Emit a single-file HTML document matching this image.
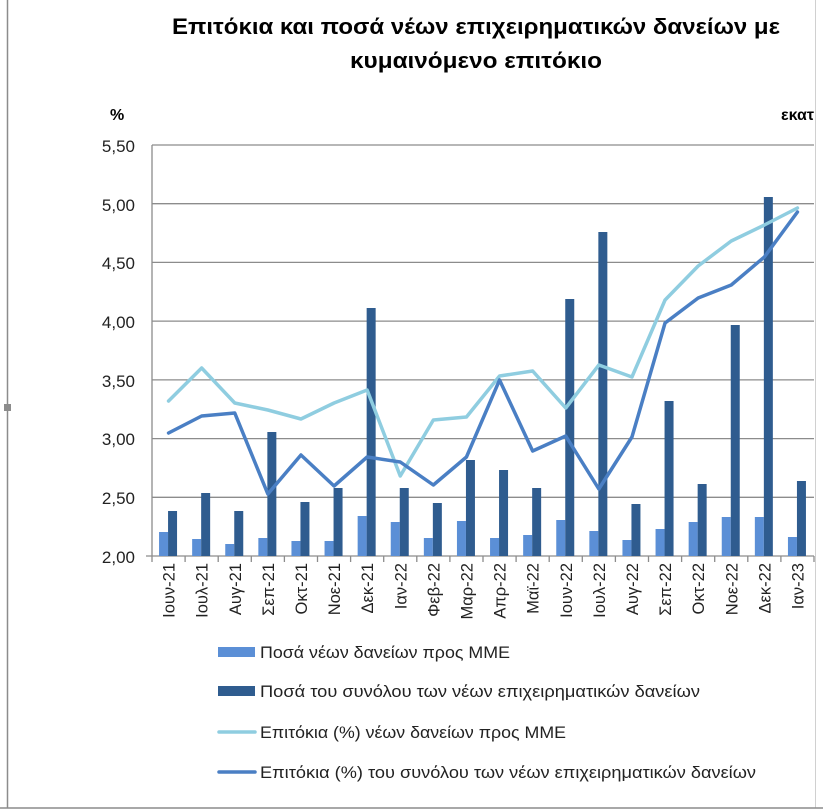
<!DOCTYPE html>
<html><head><meta charset="utf-8"><style>
body{margin:0;background:#fff;}
svg{display:block;font-family:"Liberation Sans","DejaVu Sans",sans-serif;}
</style></head><body>
<svg id="s" width="823" height="812" xmlns="http://www.w3.org/2000/svg">
<rect width="823" height="812" fill="#fff"/>
<line x1="7.5" y1="0" x2="7.5" y2="808" stroke="#8c8c8c" stroke-width="1.5"/>
<rect x="4" y="404" width="7" height="7" fill="#8c8c8c"/>
<line x1="815.5" y1="0" x2="815.5" y2="808" stroke="#d0d0d0" stroke-width="1"/>
<line x1="0" y1="808" x2="823" y2="808" stroke="#8c8c8c" stroke-width="1.5"/>
<text x="172" y="34" font-size="22" font-weight="bold" textLength="608" lengthAdjust="spacingAndGlyphs">Επιτόκια και ποσά νέων επιχειρηματικών δανείων με</text>
<text x="350" y="68" font-size="22" font-weight="bold" textLength="252" lengthAdjust="spacingAndGlyphs">κυμαινόμενο επιτόκιο</text>
<text x="110" y="120" font-size="16" font-weight="bold">%</text>
<svg x="0" y="0" width="815" height="812"><text x="781" y="120" font-size="16" font-weight="bold">εκατ</text></svg>
<g stroke="#8c8c8c" stroke-width="1.3">
<line x1="152" y1="145" x2="814" y2="145"/>
<line x1="152" y1="203.7" x2="814" y2="203.7"/>
<line x1="152" y1="262.4" x2="814" y2="262.4"/>
<line x1="152" y1="321.1" x2="814" y2="321.1"/>
<line x1="152" y1="379.9" x2="814" y2="379.9"/>
<line x1="152" y1="438.6" x2="814" y2="438.6"/>
<line x1="152" y1="497.3" x2="814" y2="497.3"/>
<line x1="146" y1="556" x2="814" y2="556"/>
<line x1="152" y1="145" x2="152" y2="556"/>
</g>
<g font-size="17" text-anchor="end" fill="#222">
<text x="135" y="152">5,50</text><text x="135" y="211">5,00</text><text x="135" y="269">4,50</text>
<text x="135" y="328">4,00</text><text x="135" y="387">3,50</text><text x="135" y="445">3,00</text>
<text x="135" y="504">2,50</text><text x="135" y="563">2,00</text>
</g>
<g id="ticks" stroke="#8c8c8c" stroke-width="1.3"></g>
<g id="bars"></g>
<g id="lines" fill="none" stroke-width="3.5" stroke-linejoin="round" stroke-linecap="round"></g>
<g font-size="16.5" text-anchor="end" fill="#222">
<text transform="translate(174.6,563) rotate(-90)">Ιουν-21</text>
<text transform="translate(207.7,563) rotate(-90)">Ιουλ-21</text>
<text transform="translate(240.8,563) rotate(-90)">Αυγ-21</text>
<text transform="translate(273.9,563) rotate(-90)">Σεπ-21</text>
<text transform="translate(307,563) rotate(-90)">Οκτ-21</text>
<text transform="translate(340.1,563) rotate(-90)">Νοε-21</text>
<text transform="translate(373.2,563) rotate(-90)">Δεκ-21</text>
<text transform="translate(406.3,563) rotate(-90)">Ιαν-22</text>
<text transform="translate(439.4,563) rotate(-90)">Φεβ-22</text>
<text transform="translate(472.5,563) rotate(-90)">Μαρ-22</text>
<text transform="translate(505.6,563) rotate(-90)">Απρ-22</text>
<text transform="translate(538.7,563) rotate(-90)">Μαϊ-22</text>
<text transform="translate(571.8,563) rotate(-90)">Ιουν-22</text>
<text transform="translate(604.9,563) rotate(-90)">Ιουλ-22</text>
<text transform="translate(638,563) rotate(-90)">Αυγ-22</text>
<text transform="translate(671.1,563) rotate(-90)">Σεπ-22</text>
<text transform="translate(704.2,563) rotate(-90)">Οκτ-22</text>
<text transform="translate(737.3,563) rotate(-90)">Νοε-22</text>
<text transform="translate(770.4,563) rotate(-90)">Δεκ-22</text>
<text transform="translate(803.5,563) rotate(-90)">Ιαν-23</text>
</g>
<rect x="218" y="647" width="37" height="10" fill="#5b8fd6"/>
<rect x="218" y="686" width="37" height="10" fill="#2f5c8f"/>
<line x1="219" y1="732" x2="255" y2="732" stroke="#8fcde0" stroke-width="3.5" stroke-linecap="round"/>
<line x1="219" y1="772" x2="255" y2="772" stroke="#4a7fc4" stroke-width="3.5" stroke-linecap="round"/>
<g font-size="17" fill="#222">
<text x="260" y="658" textLength="250" lengthAdjust="spacingAndGlyphs">Ποσά νέων δανείων προς ΜΜΕ</text>
<text x="260" y="697" textLength="440" lengthAdjust="spacingAndGlyphs">Ποσά του συνόλου των νέων επιχειρηματικών δανείων</text>
<text x="260" y="738" textLength="306" lengthAdjust="spacingAndGlyphs">Επιτόκια (%) νέων δανείων προς ΜΜΕ</text>
<text x="260" y="778" textLength="496" lengthAdjust="spacingAndGlyphs">Επιτόκια (%) του συνόλου των νέων επιχειρηματικών δανείων</text>
</g>
</svg>
<script>
var NS="http://www.w3.org/2000/svg";
function el(p,t,a){var e=document.createElementNS(NS,t);for(var k in a)e.setAttribute(k,a[k]);p.appendChild(e);return e;}
var L=[532,539,544,538,541,541,516,522,538,521,538,535,520,531,540,529,522,517,517,537];
var D=[511,493,511,432,502,488,308,488,503,460,470,488,299,232,504,401,484,325,197,481];
var LL=[401,368,403,410,419,403,390,476,420,417,376,371,408,365,377,300,266,241,225,208];
var DL=[433,416,413,494,455,486,457,462,485,457,380,451,436,489,437,323,298,285,257,212];
var b=document.getElementById("bars"),tk=document.getElementById("ticks"),ln=document.getElementById("lines");
for(var i=0;i<=20;i++){var x=152+33.1*i;el(tk,"line",{x1:x,y1:556,x2:x,y2:562});}
var p1=[],p2=[];
for(var i=0;i<20;i++){var c=168.55+33.1*i;
el(b,"rect",{x:c-9.5,y:L[i],width:9,height:556-L[i],fill:"#5b8fd6"});
el(b,"rect",{x:c-0.5,y:D[i],width:9,height:556-D[i],fill:"#2f5c8f"});
p1.push(c+","+LL[i]);p2.push(c+","+DL[i]);}
el(ln,"polyline",{points:p1.join(" "),stroke:"#8fcde0"});
el(ln,"polyline",{points:p2.join(" "),stroke:"#4a7fc4"});
</script>
</body></html>
